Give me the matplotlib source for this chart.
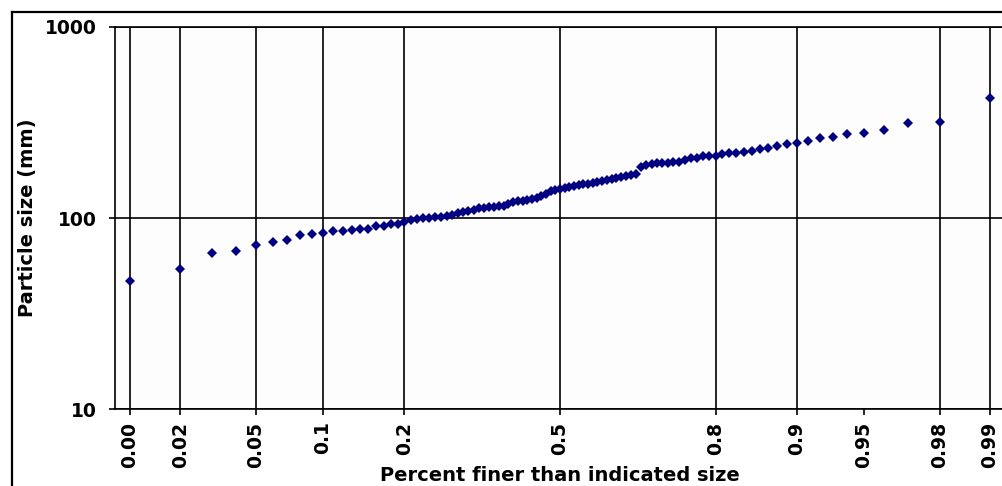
import matplotlib
matplotlib.use("Agg")
import matplotlib.pyplot as plt
from matplotlib.lines import Line2D
import numpy as np
from statistics import NormalDist

# Cumulative fraction finer (plotting positions) and matching particle sizes (mm)
percent_finer = [
    0.01, 0.02, 0.03, 0.04, 0.05, 0.06, 0.07, 0.08, 0.09, 0.10,
    0.11, 0.12, 0.13, 0.14, 0.15, 0.16, 0.17, 0.18, 0.19, 0.20,
    0.21, 0.22, 0.23, 0.24, 0.25, 0.26, 0.27, 0.28, 0.29, 0.30,
    0.31, 0.32, 0.33, 0.34, 0.35, 0.36, 0.37, 0.38, 0.39, 0.40,
    0.41, 0.42, 0.43, 0.44, 0.45, 0.46, 0.47, 0.48, 0.49, 0.50,
    0.51, 0.52, 0.53, 0.54, 0.55, 0.56, 0.57, 0.58, 0.59, 0.60,
    0.61, 0.62, 0.63, 0.64, 0.65, 0.66, 0.67, 0.68, 0.69, 0.70,
    0.71, 0.72, 0.73, 0.74, 0.75, 0.76, 0.77, 0.78, 0.79, 0.80,
    0.81, 0.82, 0.83, 0.84, 0.85, 0.86, 0.87, 0.88, 0.89, 0.90,
    0.91, 0.92, 0.93, 0.94, 0.95, 0.96, 0.97, 0.98, 0.99,
]
particle_size = [
    47, 54, 65.5, 67, 72, 75, 77, 81, 82, 83,
    85, 86, 86.5, 87.5, 88, 91, 91, 93, 93, 95,
    97.5, 99, 100, 100, 101, 101.5, 102.5, 104, 106, 107.5,
    109, 110, 113, 113, 114, 114.5, 115, 115.5, 118.5, 121,
    123, 123, 124.5, 126, 128, 131, 134, 139, 140.5, 142,
    144, 145.5, 147, 149, 151, 151, 153, 155, 157, 159,
    160.5, 162, 164, 166, 168, 170, 185, 190, 192, 195,
    195, 195, 197, 197, 202, 205, 207, 210, 212, 212,
    217, 220, 220, 222, 225, 231, 233, 239, 245, 248,
    252, 261, 267, 274, 280, 290, 316, 320, 423,
]

x_ticks = [0.01, 0.02, 0.05, 0.1, 0.2, 0.5, 0.8, 0.9, 0.95, 0.98, 0.99]
x_tick_labels = ["0.00", "0.02", "0.05", "0.1", "0.2", "0.5", "0.8", "0.9", "0.95", "0.98", "0.99"]
x_grid = [0.01, 0.02, 0.05, 0.1, 0.2, 0.5, 0.8, 0.9, 0.98, 0.99]
y_ticks = [10, 100, 1000]
y_tick_labels = ["10", "100", "1000"]

_nd = NormalDist()


def prob_to_z(p):
    a = np.asarray(p, dtype=float)
    flat = np.clip(a.ravel(), 1e-9, 1 - 1e-9)
    return np.array([_nd.inv_cdf(v) for v in flat]).reshape(a.shape)


def z_to_prob(z):
    a = np.asarray(z, dtype=float)
    return np.array([_nd.cdf(v) for v in a.ravel()]).reshape(a.shape)


W, H = 1003, 486
fig = plt.figure(figsize=(W / 100, H / 100), dpi=100)
fig.patch.set_facecolor("white")

left, right, top, bottom = 115, 1005, 27, 409
ax = fig.add_axes([left / W, 1 - bottom / H, (right - left) / W, (bottom - top) / H])
ax.set_facecolor("#fdfdfd")

ax.set_xscale("function", functions=(prob_to_z, z_to_prob))
ax.set_yscale("log")
ax.set_xlim(_nd.cdf(-2.4075), _nd.cdf(2.4075))
ax.set_ylim(10, 1000)

for p in x_grid:
    ax.axvline(p, color="black", lw=1.2, zorder=1)
for v in y_ticks:
    ax.axhline(v, color="black", lw=1.2, zorder=1)

ax.plot(percent_finer, particle_size, linestyle="none", marker="D",
        markersize=5, markeredgewidth=0, color="#000080", zorder=3)

ax.set_xticks(x_ticks)
ax.set_xticklabels(x_tick_labels, rotation=90, fontsize=13.5, fontweight="bold",
                   family="DejaVu Sans")
ax.xaxis.set_minor_locator(matplotlib.ticker.NullLocator())
ax.set_yticks(y_ticks)
ax.set_yticklabels(y_tick_labels, fontsize=13.5, fontweight="bold", family="DejaVu Sans")
ax.yaxis.set_minor_locator(matplotlib.ticker.NullLocator())
ax.tick_params(axis="x", direction="out", length=4, width=1.2, pad=5)
ax.tick_params(axis="y", direction="out", length=4, width=1.2, pad=9)

for s in ax.spines.values():
    s.set_linewidth(1.2)
    s.set_color("black")

fig.text(28 / W, 1 - 218 / H, "Particle size (mm)", rotation=90, ha="center", va="center",
         fontsize=14, fontweight="bold", family="DejaVu Sans")
fig.text(560 / W, 1 - 481 / H, "Percent finer than indicated size", ha="center", va="baseline",
         fontsize=14, fontweight="bold", family="DejaVu Sans")

# outer chart frame (left and top edges)
fig.add_artist(Line2D([12 / W, 12 / W], [0, 1 - 12 / H], color="black", lw=1.6))
fig.add_artist(Line2D([12 / W, 1], [1 - 12 / H, 1 - 12 / H], color="black", lw=1.6))

fig.savefig("out.png", dpi=100)
